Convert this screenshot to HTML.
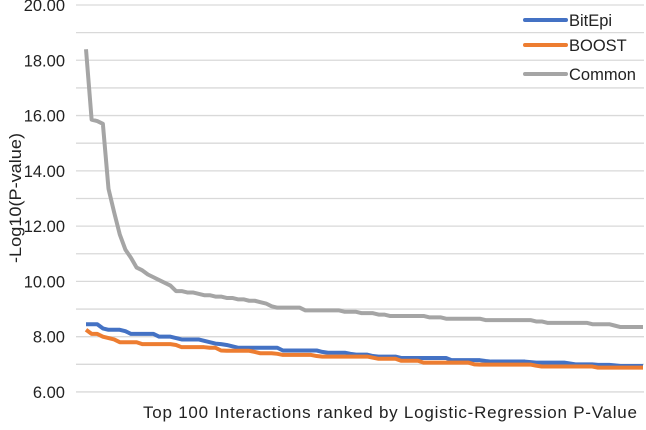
<!DOCTYPE html>
<html><head><meta charset="utf-8"><style>
body{margin:0;background:#fff}
svg text{font-family:"Liberation Sans",sans-serif;fill:#222}
</style></head><body>
<svg id="chart" width="646" height="425" xmlns="http://www.w3.org/2000/svg"></svg>
<script>
const yTicks=[6,8,10,12,14,16,18,20];
const seriesNames=["BitEpi","BOOST","Common"];
const common=[18.4,15.85,15.8,15.7,13.35,12.5,11.7,11.15,10.85,10.5,
10.4,10.25,10.15,10.05,9.95,9.85,9.65,9.65,9.6,9.6,
9.55,9.5,9.5,9.45,9.45,9.4,9.4,9.35,9.35,9.3,
9.3,9.25,9.2,9.1,9.05,9.05,9.05,9.05,9.05,8.95,
8.95,8.95,8.95,8.95,8.95,8.95,8.9,8.9,8.9,8.85,
8.85,8.85,8.8,8.8,8.75,8.75,8.75,8.75,8.75,8.75,
8.75,8.7,8.7,8.7,8.65,8.65,8.65,8.65,8.65,8.65,
8.65,8.6,8.6,8.6,8.6,8.6,8.6,8.6,8.6,8.6,
8.55,8.55,8.5,8.5,8.5,8.5,8.5,8.5,8.5,8.5,
8.45,8.45,8.45,8.45,8.4,8.35,8.35,8.35,8.35,8.35];
const bitepi=[8.45,8.45,8.45,8.3,8.25,8.25,8.25,8.2,8.1,8.1,
8.1,8.1,8.1,8.0,8.0,8.0,7.95,7.9,7.9,7.9,
7.9,7.85,7.8,7.75,7.73,7.7,7.65,7.6,7.6,7.6,
7.6,7.6,7.6,7.6,7.6,7.5,7.5,7.5,7.5,7.5,
7.5,7.5,7.45,7.42,7.42,7.42,7.42,7.38,7.35,7.35,
7.35,7.3,7.28,7.28,7.28,7.28,7.23,7.23,7.23,7.23,
7.23,7.23,7.23,7.23,7.23,7.15,7.15,7.15,7.15,7.15,
7.15,7.12,7.1,7.1,7.1,7.1,7.1,7.1,7.1,7.08,
7.06,7.06,7.06,7.06,7.06,7.06,7.03,7.0,7.0,7.0,
7.0,6.98,6.98,6.98,6.96,6.94,6.94,6.94,6.94,6.94];
const boost=[8.25,8.1,8.1,8.0,7.95,7.9,7.8,7.8,7.8,7.8,
7.73,7.73,7.73,7.73,7.73,7.73,7.7,7.62,7.62,7.62,
7.62,7.62,7.6,7.6,7.5,7.49,7.49,7.49,7.49,7.49,
7.45,7.4,7.4,7.4,7.38,7.34,7.34,7.34,7.34,7.34,
7.34,7.3,7.28,7.28,7.28,7.28,7.28,7.28,7.28,7.28,
7.28,7.24,7.2,7.2,7.2,7.2,7.13,7.13,7.13,7.13,
7.06,7.06,7.06,7.06,7.06,7.06,7.06,7.06,7.06,7.0,
6.99,6.99,6.99,6.99,6.99,6.99,6.99,6.99,6.99,6.99,
6.95,6.92,6.92,6.92,6.92,6.92,6.92,6.92,6.92,6.92,
6.92,6.88,6.88,6.88,6.88,6.88,6.88,6.88,6.88,6.88];

const NS="http://www.w3.org/2000/svg";
const svg=document.getElementById('chart');
const y=v=>5+(20-v)*27.64;
const x=i=>86+i*(557/99);
function mk(t,a){const e=document.createElementNS(NS,t);for(const k in a)e.setAttribute(k,a[k]);svg.appendChild(e);return e;}
for(let v=6;v<=20;v++){
  const g=mk('line',{x1:76,x2:644,y1:y(v),y2:y(v),stroke:'#d9d9d9','stroke-width':1.3});
  
  
}
yTicks.forEach(v=>{
  const t=mk('text',{x:65,y:y(v)+6,'text-anchor':'end','font-size':16.5});
  t.textContent=v.toFixed(2);
  
  
});
const yt=mk('text',{x:0,y:0,'text-anchor':'middle','font-size':16.5,textLength:130,lengthAdjust:'spacingAndGlyphs',transform:'translate(21,198) rotate(-90)'});
yt.textContent='-Log10(P-value)';


const xt=mk('text',{x:143,y:418,'font-size':17,textLength:494,lengthAdjust:'spacing'});
xt.textContent='Top 100 Interactions ranked by Logistic-Regression  P-Value';


const colors=['#4472c4','#ed7d31','#a5a5a5'];
const data=[bitepi,boost,common];
[2,0,1].forEach(k=>{
  const p=mk('polyline',{points:data[k].map((v,i)=>x(i)+','+y(v)).join(' '),fill:'none',stroke:colors[k],'stroke-width':4,'stroke-linejoin':'round'});
  
  
});
seriesNames.forEach((n,k)=>{
  const ly=[20,45,74][k];
  const l=mk('line',{x1:525,x2:566,y1:ly,y2:ly,stroke:colors[k],'stroke-width':4,'stroke-linecap':'round'});
  
  
  const t=mk('text',{x:569,y:ly+6,'font-size':16.5});
  t.textContent=n;
  
  
});
</script>
</body></html>
